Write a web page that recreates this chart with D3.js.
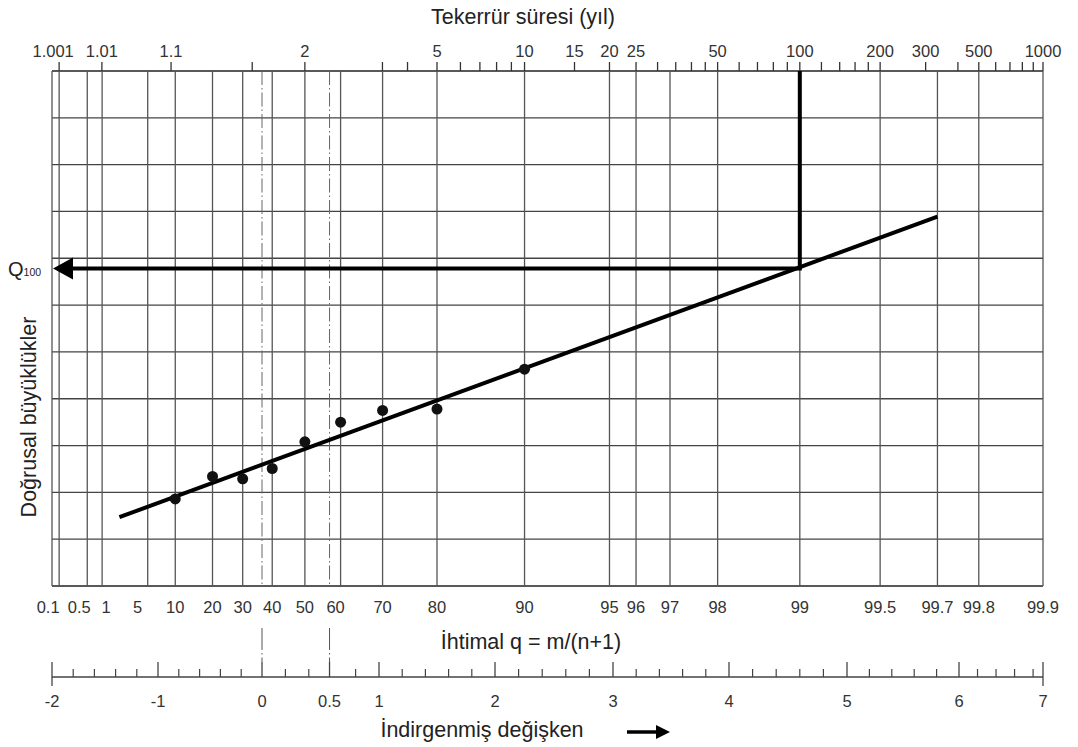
<!DOCTYPE html>
<html>
<head>
<meta charset="utf-8">
<script src="https://cdn.jsdelivr.net/npm/d3@7"></script>
<style>
  body { margin: 0; background: #fff; }
  svg { display: block; font-family: "Liberation Sans", Arial, sans-serif; }
</style>
</head>
<body>
<div id="chart"></div>
<script>
// probability grid, non-exceedance probability in %
const probGrid = [0.1, 0.5, 1, 5, 10, 20, 30, 40, 50, 60, 70, 80, 90, 95, 96, 97, 98, 99, 99.5, 99.7, 99.8, 99.9];
const probLabels = ["0.1", "0.5", "1", "5", "10", "20", "30", "40", "50", "60", "70", "80", "90", "95", "96", "97", "98", "99", "99.5", "99.7", "99.8", "99.9"];

// return periods (years) on the top axis
const returnLabeled = [1.001, 1.01, 1.1, 2, 5, 10, 15, 20, 25, 50, 100, 200, 300, 500, 1000];
const returnMinor = [1.5, 3.33, 4, 6, 7, 8, 9, 30, 35, 40, 45, 60, 70, 80, 90, 120, 140, 160, 180, 400, 600, 700, 800, 900];

// reduced variate ruler
const reducedMajor = [-2, -1, 0, 0.5772, 1, 2, 3, 4, 5, 6, 7];
const reducedLabels = ["-2", "-1", "0", "0.5", "1", "2", "3", "4", "5", "6", "7"];
const modeMeanLines = [0, 0.5772];

// observed values, plotted at q = m/(n+1)
const plotProb = [10, 20, 30, 40, 50, 60, 70, 80, 90];
const plotValue = [1.86, 2.34, 2.29, 2.51, 3.08, 3.50, 3.75, 3.78, 4.63];

// fitted straight line and the 100-year design value
const fitProb = [2, 99.7];
const fitValue = [1.47, 7.89];
const designProb = 99;
const q100Value = 6.78;

// horizontal grid (linear magnitudes, no labels)
const magnitudeGrid = [0, 1, 2, 3, 4, 5, 6, 7, 8, 9, 10, 11];

const width = 1078, height = 747;

// Gumbel reduced variate
const reduced = p => -Math.log(-Math.log(p / 100));
const probOfT = T => 100 * (1 - 1 / T);

// the paper is drawn slightly unevenly, so the x scale is piecewise
const x = d3.scaleLinear()
    .domain([-2, -1, 0, 1, 2, 3, 4, 5, 6, 6.907])
    .range([52, 158, 262, 379, 495, 613, 729, 847, 959, 1043])
    .clamp(true);
const xp = p => x(reduced(p));

const y = d3.scaleLinear()
    .domain([0, 11])
    .range([586, 71]);

const svg = d3.select("#chart")
    .append("svg")
    .attr("width", width)
    .attr("height", height);

const gTop = y(11), gBottom = y(0);
const gLeft = x(-2), gRight = xp(99.9);

// horizontal grid
svg.append("g")
    .selectAll("line")
    .data(magnitudeGrid)
    .join("line")
    .attr("x1", gLeft).attr("x2", gRight)
    .attr("y1", d => y(d)).attr("y2", d => y(d))
    .attr("stroke", d => (d === 0 || d === 11) ? "#222" : "#444")
    .attr("stroke-width", d => (d === 0 || d === 11) ? 1.6 : 1.3);

// vertical probability grid
svg.append("g")
    .selectAll("line")
    .data(probGrid)
    .join("line")
    .attr("x1", d => xp(d)).attr("x2", d => xp(d))
    .attr("y1", gTop).attr("y2", gBottom)
    .attr("stroke", "#555")
    .attr("stroke-width", 1.3);

// left border
svg.append("line")
    .attr("x1", gLeft).attr("x2", gLeft)
    .attr("y1", gTop).attr("y2", gBottom)
    .attr("stroke", "#555").attr("stroke-width", 1.3);

// mode / mean dash-dot lines
svg.append("g")
    .selectAll("line")
    .data(modeMeanLines)
    .join("line")
    .attr("x1", d => x(d)).attr("x2", d => x(d))
    .attr("y1", gTop).attr("y2", gBottom)
    .attr("stroke", "#666")
    .attr("stroke-width", 1)
    .attr("stroke-dasharray", "14,3,1.5,3");

svg.append("g")
    .selectAll("line")
    .data(modeMeanLines)
    .join("line")
    .attr("x1", d => x(d)).attr("x2", d => x(d))
    .attr("y1", 628).attr("y2", 662)
    .attr("stroke", "#555")
    .attr("stroke-width", 1)
    .attr("stroke-dasharray", "22,3,1.5,3");

// top axis ticks (return period)
const topTicks = returnLabeled.concat(returnMinor);
svg.append("g")
    .selectAll("line")
    .data(topTicks)
    .join("line")
    .attr("x1", d => xp(probOfT(d))).attr("x2", d => xp(probOfT(d)))
    .attr("y1", gTop - 9).attr("y2", gTop)
    .attr("stroke", "#333")
    .attr("stroke-width", 1.3);

svg.append("g")
    .selectAll("text")
    .data(returnLabeled)
    .join("text")
    .attr("x", d => xp(probOfT(d)) + (d === 1.001 ? -6 : 0))
    .attr("y", 57)
    .attr("text-anchor", "middle")
    .attr("fill", "#333")
    .style("font-size", "16.5px")
    .text(d => d);

// bottom probability labels (a few nudged apart like the original)
const labelShift = { 0.1: -11, 0.5: -8, 1: 4, 5: -10, 60: -5 };
svg.append("g")
    .selectAll("text")
    .data(probGrid)
    .join("text")
    .attr("x", d => xp(d) + (labelShift[d] || 0))
    .attr("y", 613)
    .attr("text-anchor", "middle")
    .attr("fill", "#333")
    .style("font-size", "16.5px")
    .text((d, i) => probLabels[i]);

// reduced variate ruler
const rulerY = 677;
const reducedMinor = d3.range(-1.8, 7, 0.2)
    .filter(v => reducedMajor.every(m => Math.abs(m - v) > 0.09));

svg.append("line")
    .attr("x1", x(-2)).attr("x2", x(7))
    .attr("y1", rulerY).attr("y2", rulerY)
    .attr("stroke", "#444").attr("stroke-width", 1.5);

svg.append("g")
    .selectAll("line")
    .data(reducedMinor)
    .join("line")
    .attr("x1", d => x(d)).attr("x2", d => x(d))
    .attr("y1", rulerY - 8).attr("y2", rulerY)
    .attr("stroke", "#444").attr("stroke-width", 1.2);

svg.append("g")
    .selectAll("line")
    .data(reducedMajor)
    .join("line")
    .attr("x1", d => x(d)).attr("x2", d => x(d))
    .attr("y1", rulerY - 15)
    .attr("y2", d => (d === -2 || d === 7) ? rulerY + 9 : rulerY)
    .attr("stroke", "#444").attr("stroke-width", 1.3);

svg.append("g")
    .selectAll("text")
    .data(reducedMajor)
    .join("text")
    .attr("x", d => x(d))
    .attr("y", 707)
    .attr("text-anchor", "middle")
    .attr("fill", "#333")
    .style("font-size", "16.5px")
    .text((d, i) => reducedLabels[i]);

// fitted line
const fitLine = d3.line()
    .x(d => xp(d[0]))
    .y(d => y(d[1]));

svg.append("path")
    .datum(fitProb.map((p, i) => [p, fitValue[i]]))
    .attr("d", fitLine)
    .attr("fill", "none")
    .attr("stroke", "#000")
    .attr("stroke-width", 4);

// design value: vertical from top to the line, arrow to the axis
const xd = xp(designProb), yq = y(q100Value);
svg.append("line")
    .attr("x1", xd).attr("x2", xd)
    .attr("y1", gTop).attr("y2", yq)
    .attr("stroke", "#000").attr("stroke-width", 4);

svg.append("line")
    .attr("x1", xd + 2).attr("x2", gLeft + 16)
    .attr("y1", yq).attr("y2", yq)
    .attr("stroke", "#000").attr("stroke-width", 4);

svg.append("path")
    .attr("d", `M${gLeft + 1},${yq} L${gLeft + 21},${yq - 11} L${gLeft + 21},${yq + 11} Z`)
    .attr("fill", "#000");

// observed points
svg.append("g")
    .selectAll("circle")
    .data(plotProb)
    .join("circle")
    .attr("cx", d => xp(d))
    .attr("cy", (d, i) => y(plotValue[i]))
    .attr("r", 5.5)
    .attr("fill", "#111");

// Q100 label
const qLabel = svg.append("text")
    .attr("x", 8)
    .attr("y", yq + 7)
    .attr("fill", "#222")
    .style("font-size", "20px");
qLabel.append("tspan").text("Q");
qLabel.append("tspan").style("font-size", "10.5px").text("100");

// titles
svg.append("text")
    .attr("x", 523).attr("y", 24)
    .attr("text-anchor", "middle")
    .attr("fill", "#222")
    .style("font-size", "21.5px")
    .text("Tekerrür süresi (yıl)");

svg.append("text")
    .attr("x", 531).attr("y", 649)
    .attr("text-anchor", "middle")
    .attr("fill", "#222")
    .style("font-size", "21.5px")
    .text("İhtimal q = m/(n+1)");

svg.append("text")
    .attr("x", 482).attr("y", 737)
    .attr("text-anchor", "middle")
    .attr("fill", "#222")
    .style("font-size", "21.5px")
    .text("İndirgenmiş değişken");

svg.append("text")
    .attr("transform", "translate(36,417) rotate(-90)")
    .attr("text-anchor", "middle")
    .attr("fill", "#222")
    .style("font-size", "21.5px")
    .text("Doğrusal büyüklükler");

// small arrow after the reduced variate title
svg.append("line")
    .attr("x1", 627).attr("x2", 658)
    .attr("y1", 732).attr("y2", 732)
    .attr("stroke", "#000").attr("stroke-width", 3.5);
svg.append("path")
    .attr("d", "M670,732 L656,725 L656,739 Z")
    .attr("fill", "#000");
</script>
</body>
</html>
